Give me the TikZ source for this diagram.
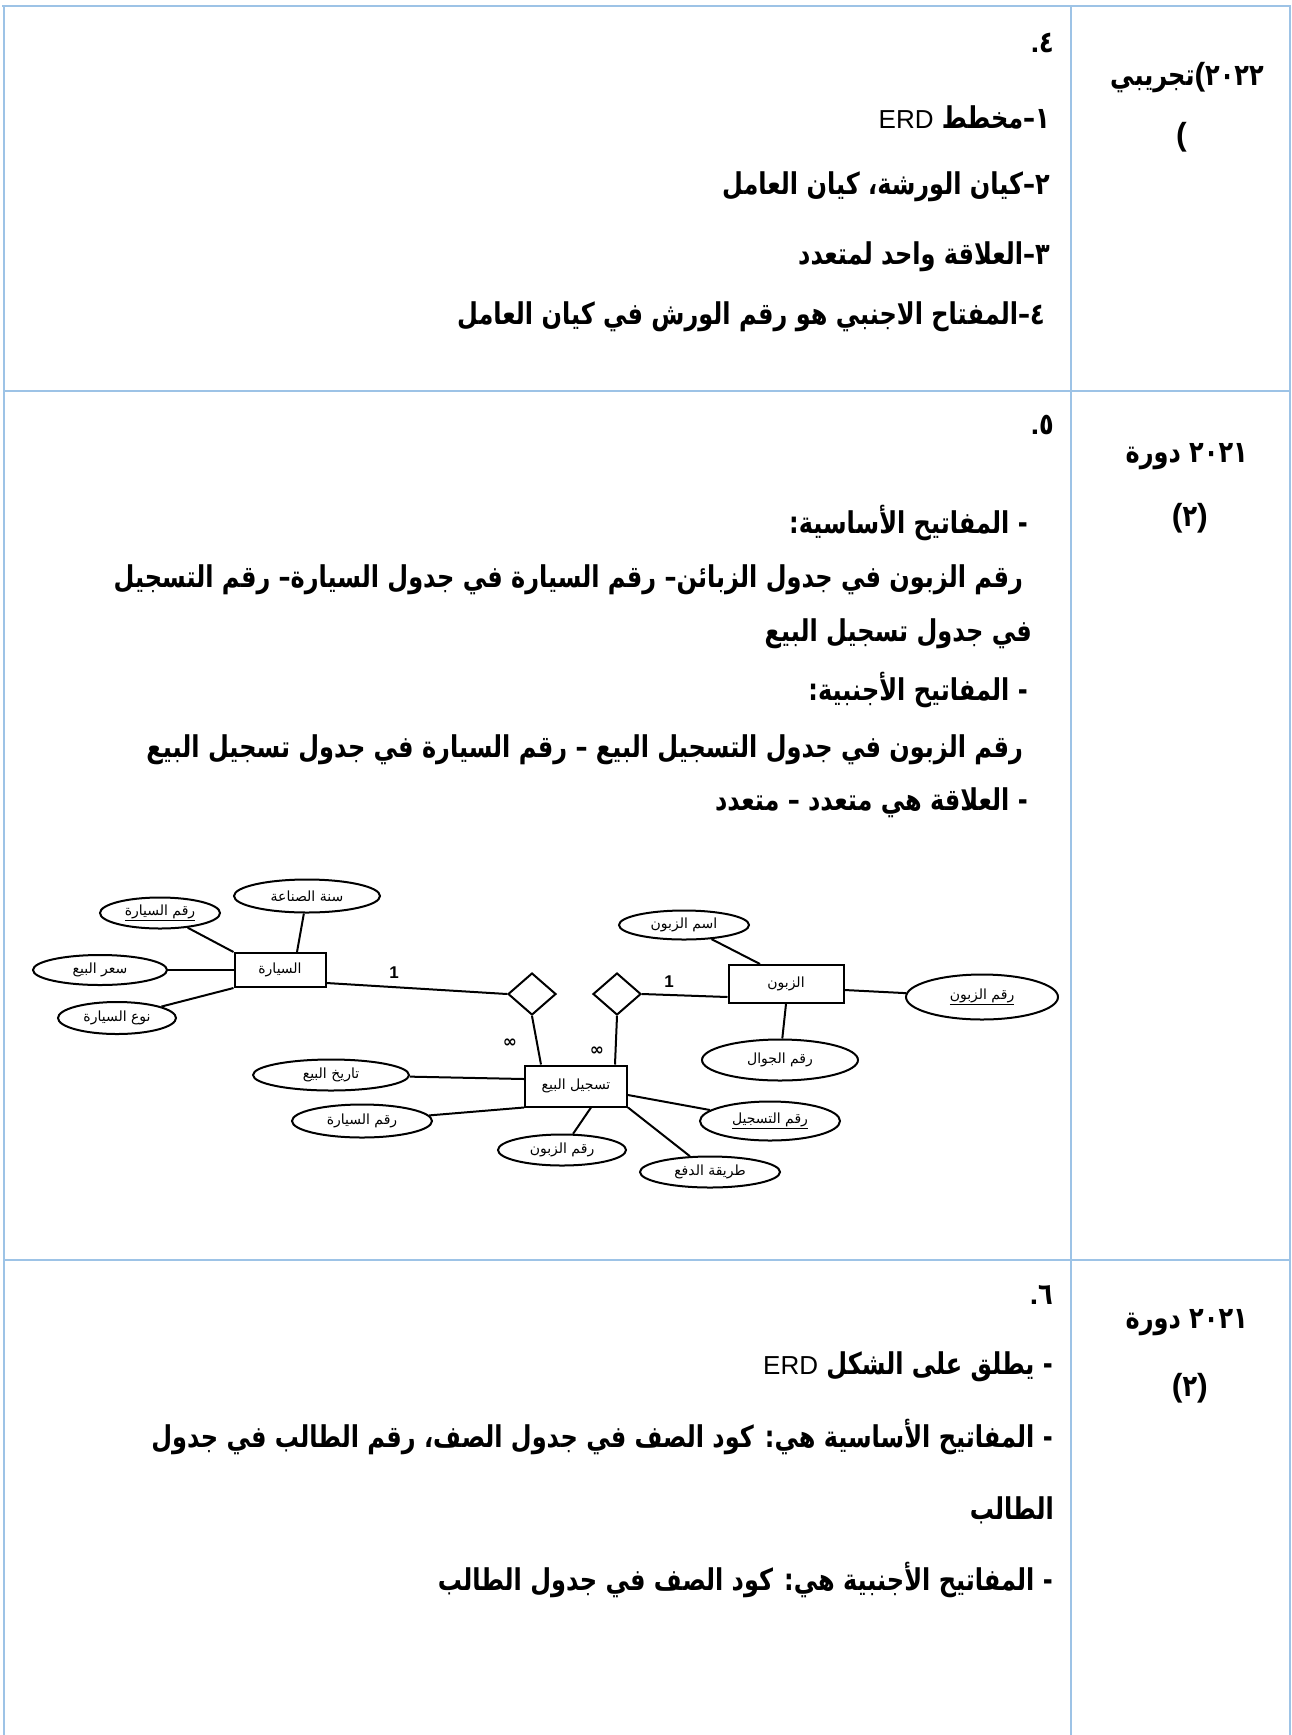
\documentclass[tikz,border=0pt]{standalone}
\usepackage{fontspec}
\usetikzlibrary{shapes.geometric}
\TeXXeTstate=1
\newfontfamily\ar[Script=Arabic]{DejaVu Sans}
\newfontfamily\arm[Script=Arabic,FakeStretch=0.8]{DejaVu Sans}
\newfontfamily\lat{Liberation Sans}
\newcommand\erdword{\beginL{\lat\mdseries\fontsize{26}{30}\selectfont ERD}\endL}
\newcommand\opar{{\lat\bfseries\fontsize{32}{32}\selectfont(}}
\newcommand\cpar{{\lat\bfseries\fontsize{32}{32}\selectfont)}}
\newcommand\dotp{{\lat\bfseries .}}
\definecolor{gridblue}{RGB}{157,195,230}
\begin{document}
\begin{tikzpicture}[x=1pt,y=-1pt,
  gridline/.style={draw=gridblue,line width=2pt},
  mt/.style={inner sep=0pt,anchor=east,font=\arm\bfseries\fontsize{30}{34}\selectfont},
  ent/.style={draw,line width=2pt,inner sep=0pt,font=\ar\fontsize{14}{16}\selectfont},
  att/.style={draw,ellipse,line width=2pt,inner sep=0pt,font=\ar\fontsize{14}{16}\selectfont},
  rel/.style={draw,diamond,line width=2pt,inner sep=0pt,minimum width=48pt,minimum height=42pt},
  lnk/.style={line width=2pt},
  card/.style={inner sep=0pt,font=\lat\bfseries\fontsize{17}{19}\selectfont},
  inf/.style={inner sep=0pt,font=\ar\bfseries\fontsize{17}{19}\selectfont}]
\useasboundingbox (0,0) rectangle (1292,1735);
% table grid
\draw[gridline] (2,6) -- (1291,6);
\draw[gridline] (4,6) -- (4,1735);
\draw[gridline] (1071,6) -- (1071,1735);
\draw[gridline] (1290,6) -- (1290,1735);
\draw[gridline] (4,391) -- (1290,391);
\draw[gridline] (4,1260) -- (1290,1260);

% row 1
\node[mt] (n4) at (1054,43) {\dotp٤};
\node[mt] (y1) at (1264,78) {{\beginR تجريبي\endR}\opar٢٠٢٢};
\node[mt] (y1b) at (1187,137) {\opar};
\node[mt] (l11) at (1050,117) {\beginR ١–مخطط \erdword\endR};
\node[mt] (l12) at (1050,187) {\beginR ٢–كيان الورشة، كيان العامل\endR};
\node[mt] (l13) at (1050,257) {\beginR ٣–العلاقة واحد لمتعدد\endR};
\node[mt] (l14) at (1045,317) {\beginR ٤–المفتاح الاجنبي هو رقم الورش في كيان العامل\endR};

% row 2
\node[mt] (n5) at (1054,425) {\dotp٥};
\node[mt] (y2) at (1248,457) {\beginR ٢٠٢١ دورة\endR};
\node[mt] (y2b) at (1208,518) {\opar٢\cpar};
\node[mt] (l21) at (1028,523) {\beginR - المفاتيح الأساسية\kern0pt:\endR};
\node[mt] (l22) at (1023,580) {\beginR رقم الزبون في جدول الزبائن– رقم السيارة في جدول السيارة– رقم التسجيل\endR};
\node[mt] (l23) at (1032,634) {\beginR في جدول تسجيل البيع\endR};
\node[mt] (l24) at (1028,690) {\beginR - المفاتيح الأجنبية\kern0pt:\endR};
\node[mt] (l25) at (1023,750) {\beginR رقم الزبون في جدول التسجيل البيع – رقم السيارة في جدول تسجيل البيع\endR};
\node[mt] (l26) at (1028,803) {\beginR - العلاقة هي متعدد – متعدد\endR};

% ERD
\node[ent,minimum width=91pt,minimum height=34pt] (car) at (280,970) {السيارة};
\node[ent,minimum width=102pt,minimum height=41pt] (sale) at (576,1086) {\beginR تسجيل البيع\endR};
\node[ent,minimum width=115pt,minimum height=38pt] (cust) at (786,984) {الزبون};
\node[rel] (d1) at (532,994) {};
\node[rel] (d2) at (617,994) {};
\node[att,minimum width=120pt,minimum height=31pt] (a1) at (160,913) {\underline{\beginR رقم السيارة\endR}};
\node[att,minimum width=146pt,minimum height=33pt] (a2) at (307,896) {\beginR سنة الصناعة\endR};
\node[att,minimum width=134pt,minimum height=30pt] (a3) at (100,970) {\beginR سعر البيع\endR};
\node[att,minimum width=118pt,minimum height=32pt] (a4) at (117,1018) {\beginR نوع السيارة\endR};
\node[att,minimum width=156pt,minimum height=31pt] (a5) at (331,1075) {\beginR تاريخ البيع\endR};
\node[att,minimum width=140pt,minimum height=33pt] (a6) at (362,1121) {\beginR رقم السيارة\endR};
\node[att,minimum width=128pt,minimum height=31pt] (a7) at (562,1150) {\beginR رقم الزبون\endR};
\node[att,minimum width=140pt,minimum height=39pt] (a8) at (770,1121) {\underline{\beginR رقم التسجيل\endR}};
\node[att,minimum width=140pt,minimum height=31pt] (a9) at (710,1172) {\beginR طريقة الدفع\endR};
\node[att,minimum width=130pt,minimum height=29pt] (a10) at (684,925) {\beginR اسم الزبون\endR};
\node[att,minimum width=152pt,minimum height=45pt] (a11) at (982,997) {\underline{\beginR رقم الزبون\endR}};
\node[att,minimum width=156pt,minimum height=41pt] (a12) at (780,1060) {\beginR رقم الجوال\endR};

\draw[lnk] (a1) -- (car.north west);
\draw[lnk] (a2) -- ([xshift=17pt]car.north);
\draw[lnk] (a3) -- (car.west);
\draw[lnk] (a4) -- (car.south west);
\draw[lnk] ([yshift=-13pt]car.east) -- (d1.west);
\draw[lnk] (d1.south) -- ([xshift=-35pt]sale.north);
\draw[lnk] (d2.south) -- ([xshift=39pt]sale.north);
\draw[lnk] (d2.east) -- ([yshift=-13pt]cust.west);
\draw[lnk] (a5) -- ([yshift=7pt]sale.west);
\draw[lnk] (a6) -- (sale.south west);
\draw[lnk] (a7) -- ([xshift=15pt]sale.south);
\draw[lnk] ([yshift=-9pt]sale.east) -- (a8);
\draw[lnk] (sale.south east) -- (a9);
\draw[lnk] (a10) -- ([xshift=-26pt]cust.north);
\draw[lnk] ([yshift=-6pt]cust.east) -- (a11);
\draw[lnk] (cust.south) -- (a12);
\node[card] (c1) at (394,973) {1};
\node[card] (c2) at (669,982) {1};
\node[inf] (m1) at (510,1043) {∞};
\node[inf] (m2) at (597,1051) {∞};

% row 3
\node[mt] (n6) at (1053,1295) {\dotp٦};
\node[mt] (y3) at (1248,1323) {\beginR ٢٠٢١ دورة\endR};
\node[mt] (y3b) at (1208,1388) {\opar٢\cpar};
\node[mt] (l31) at (1053,1367) {\beginR - يطلق على الشكل \erdword\endR};
\node[mt] (l32) at (1053,1437) {\beginR - المفاتيح الأساسية هي: كود الصف في جدول الصف، رقم الطالب في جدول\endR};
\node[mt] (l33) at (1054,1510) {\beginR الطالب\endR};
\node[mt] (l34) at (1053,1580) {\beginR - المفاتيح الأجنبية هي: كود الصف في جدول الطالب\endR};
\end{tikzpicture}
\end{document}
